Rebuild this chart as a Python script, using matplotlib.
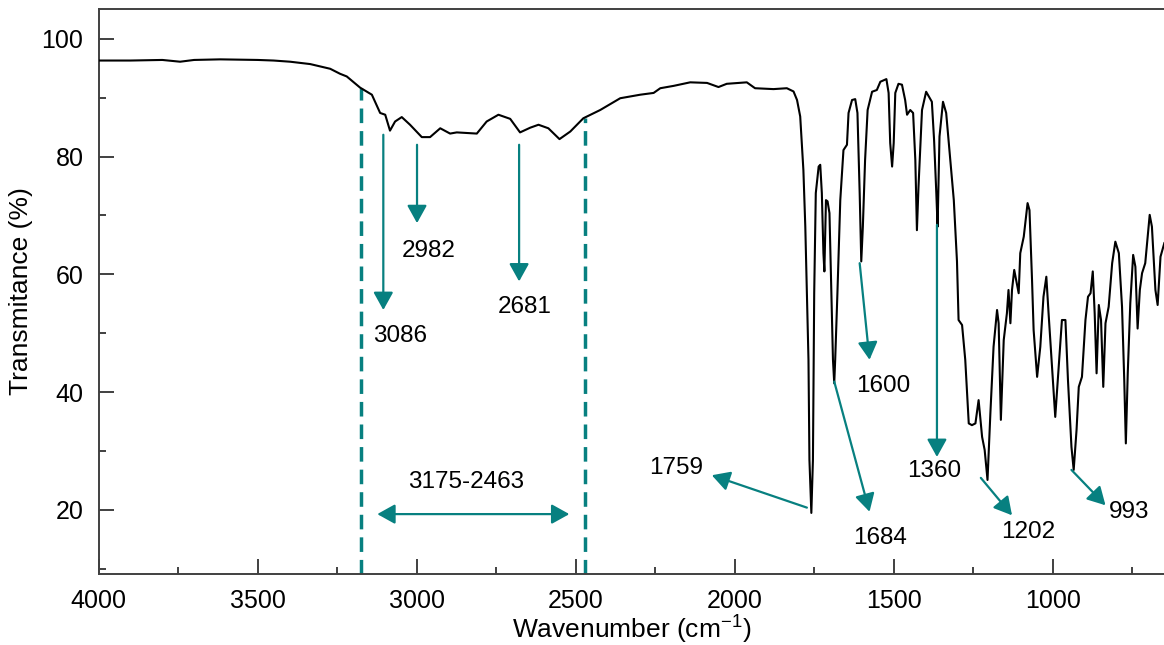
"""
FTIR spectrum with annotated absorption bands
"""
import numpy as np
import matplotlib
matplotlib.use('Agg')
import matplotlib.pyplot as plt
from matplotlib.ticker import MultipleLocator

plt.rcParams['font.family'] = ['Liberation Sans', 'DejaVu Sans']
plt.rcParams['mathtext.default'] = 'regular'

# spectrum (wavenumber cm-1, transmittance %)
wavenumber = [4000, 3900, 3800, 3744, 3700, 3618, 3500, 3450, 3398, 3335, 3272, 3241, 3220,
              3178, 3141, 3115, 3099, 3084, 3068, 3047, 3021, 2984, 2958, 2926, 2895, 2874,
              2811, 2780, 2743, 2706, 2675, 2643, 2617, 2586, 2551, 2517, 2476, 2423, 2360,
              2297, 2255, 2234, 2192, 2140, 2087, 2051, 2025, 1962, 1936, 1878, 1836, 1815,
              1804, 1794, 1784, 1778, 1773, 1768, 1765, 1759, 1754, 1750, 1745, 1736, 1731,
              1726, 1721, 1718, 1713, 1708, 1702, 1696, 1691, 1687, 1684, 1677, 1668, 1658,
              1647, 1642, 1631, 1621, 1614, 1607, 1602, 1597, 1590, 1582, 1568, 1553, 1542,
              1523, 1516, 1511, 1505, 1500, 1495, 1485, 1474, 1464, 1458, 1448, 1439, 1432,
              1427, 1422, 1411, 1398, 1380, 1373, 1366, 1362, 1356, 1345, 1335, 1322, 1311,
              1301, 1296, 1285, 1275, 1264, 1254, 1243, 1233, 1222, 1214, 1205, 1196, 1186,
              1175, 1170, 1163, 1154, 1144, 1139, 1133, 1128, 1121, 1115, 1107, 1102, 1091,
              1079, 1073, 1065, 1060, 1049, 1039, 1029, 1020, 1013, 1002, 992, 981, 971,
              960, 952, 941, 934, 925, 918, 908, 897, 889, 881, 874, 868, 862, 855, 848,
              841, 834, 824, 813, 803, 792, 782, 775, 770, 764, 756, 747, 740, 733, 726,
              719, 709, 695, 688, 677, 670, 661, 649]
transmittance = [96.3, 96.3, 96.4, 96.1, 96.4, 96.5, 96.4, 96.3, 96.1, 95.7, 94.9, 94.05, 93.6,
                 91.7, 90.5, 87.4, 87.1, 84.4, 85.95, 86.7, 85.4, 83.3, 83.3, 84.8, 83.9, 84.1,
                 83.9, 85.95, 87.1, 86.4, 84.1, 84.9, 85.4, 84.8, 82.96, 84.25, 86.5, 87.9, 89.9,
                 90.5, 90.8, 91.6, 92.0, 92.6, 92.5, 91.8, 92.35, 92.6, 91.6, 91.45, 91.6, 91.05,
                 89.6, 86.8, 77.7, 68.1, 56.8, 45.5, 28.5, 19.5, 28.5, 56.8, 73.8, 78.3, 78.6,
                 73.8, 63.6, 60.5, 72.6, 72.4, 70.4, 56.8, 45.5, 41.5, 45.5, 56.8, 72.6, 81.1,
                 82.0, 87.4, 89.6, 89.75, 87.4, 73.8, 62.2, 68.1, 79.4, 87.9, 91.0, 91.3, 92.7,
                 93.15, 90.8, 82.3, 78.3, 82.3, 90.8, 92.35, 92.2, 89.6, 87.1, 87.9, 87.4, 79.4,
                 67.5, 74.9, 87.9, 91.0, 89.3, 82.8, 73.8, 68.1, 83.4, 89.3, 87.4, 79.4, 72.6,
                 62.2, 52.25, 51.4, 45.5, 34.7, 34.4, 34.7, 38.65, 32.4, 30.2, 25.1, 36.4, 47.7,
                 53.95, 51.7, 35.3, 48.85, 53.4, 57.35, 51.7, 57.35, 60.75, 59.05, 56.8, 63.6, 66.4,
                 72.1, 70.9, 59.05, 50.55, 42.6, 47.7, 56.2, 59.6, 53.4, 44.3, 35.8, 44.3, 52.25,
                 52.25, 42.05, 30.7, 26.8, 33.6, 40.9, 42.6, 52.25, 56.2, 56.8, 60.5, 53.4, 43.2, 54.8, 52.25,
                 40.9, 51.7, 54.5, 61.9, 65.55, 63.6, 54.5, 42.05, 31.3, 43.2, 55.1, 63.3, 61.3, 50.8, 57.35,
                 60.2, 61.9, 70.1, 68.1, 57.35, 54.8, 63.0, 65.3]

# peak annotations: label, arrow tail, arrow head, label position
peak_labels = ['3086', '2982', '2681', '1759', '1684', '1600', '1360', '1202', '993']
tail_x = [3105, 2999, 2678, 1773, 1687, 1607, 1364, 1226, 941]
tail_y = [83.7, 82.0, 82.0, 20.4, 41.8, 61.9, 68.4, 25.45, 26.8]
head_x = [3105, 2999, 2678, 2072, 1576, 1576, 1364, 1128, 834]
head_y = [53.95, 68.7, 58.8, 25.9, 19.7, 45.5, 29.0, 19.1, 20.8]
text_x = [3052, 2963, 2662, 2184, 1544, 1534, 1372, 1077, 761]
text_y = [49.5, 64.0, 54.5, 27.05, 15.2, 41.0, 26.6, 16.2, 19.7]

# broad band region
band_edges = [3174, 2472]
band_arrow = [3124, 2520]
band_arrow_y = 19.3
band_label = '3175-2463'
band_label_pos = (2844, 24.8)

teal = '#078080'
ymin, ymax = 9.2, 105

fig = plt.figure(figsize=(11.64, 6.45), dpi=100)
ax = fig.add_axes([0.0848, 0.1107, 0.9152, 0.8749])

ax.plot(wavenumber, transmittance, color='black', lw=1.5, zorder=3)

# dashed lines marking band edges, from curve down to axis
wn_inc = np.array(wavenumber)[::-1]
t_inc = np.array(transmittance)[::-1]
for edge in band_edges:
    top = np.interp(edge, wn_inc, t_inc)
    ax.plot([edge, edge], [ymin, top], color=teal, lw=2.5,
            linestyle=(0, (4.2, 2.3)), zorder=2)

ax.annotate('', xy=(band_arrow[1], band_arrow_y), xytext=(band_arrow[0], band_arrow_y),
            arrowprops=dict(arrowstyle='<|-|>,head_length=0.9,head_width=0.5',
                            mutation_scale=12, color=teal, lw=1.6,
                            shrinkA=0, shrinkB=0))
ax.text(band_label_pos[0], band_label_pos[1], band_label, ha='center', va='center',
        fontsize=17.5)

for lab, x0, y0, x1, y1, tx, ty in zip(peak_labels, tail_x, tail_y, head_x, head_y,
                                        text_x, text_y):
    ax.annotate('', xy=(x1, y1), xytext=(x0, y0),
                arrowprops=dict(arrowstyle='-|>,head_length=0.9,head_width=0.5',
                                mutation_scale=12, color=teal, lw=1.6,
                                shrinkA=0, shrinkB=0))
    ax.text(tx, ty, lab, ha='center', va='center', fontsize=17.5)

ax.set_xlim(4000, 650)
ax.set_ylim(ymin, ymax)
ax.set_xticks([4000, 3500, 3000, 2500, 2000, 1500, 1000])
ax.set_yticks([20, 40, 60, 80, 100])
ax.xaxis.set_minor_locator(MultipleLocator(250))
ax.yaxis.set_minor_locator(MultipleLocator(10))

ax.tick_params(which='both', direction='in', top=False, right=False,
               width=1.4, color='#404040', labelsize=18, pad=11)
ax.tick_params(which='major', length=10.5)
ax.tick_params(which='minor', length=5)

ax.spines['right'].set_visible(False)
for s in ['top', 'left', 'bottom']:
    ax.spines[s].set_color('#404040')
    ax.spines[s].set_linewidth(1.4)

ax.set_xlabel('Wavenumber (cm$^{-1}$)', fontsize=19, labelpad=1)
ax.set_ylabel('Transmitance (%)', fontsize=19, labelpad=6)

plt.savefig('out.png', dpi=100)
